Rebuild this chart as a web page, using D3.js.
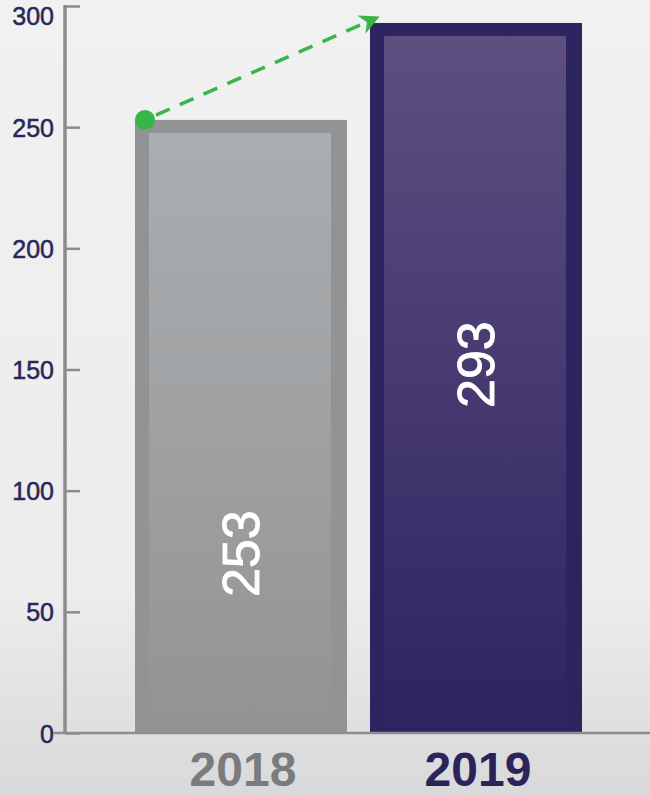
<!DOCTYPE html>
<html>
<head>
<meta charset="utf-8">
<title>2018 vs 2019</title>
<script src="https://cdn.jsdelivr.net/npm/d3@7"></script>
<style>
body{
  margin:0;
  background:#eeeeef}

svg{
  display:block}

text{
  font-family:"Liberation Sans", Arial, sans-serif}

.axis text{
  font-size:25px;
  fill:#2b2656;
  stroke:#2b2656;
  stroke-width:0.5}
</style>
</head>
<body>
<script>
// Data.
const years = ['2018', '2019']
const values = [253, 293]
const yTicks = [0, 50, 100, 150, 200, 250, 300]

const borderColors = ['#929395', '#2d2460']
const topColors = ['#abaeb0', '#5e4f80']
const yearColors = ['#7a7b7d', '#2b2459']

const width = 650
const height = 796

const svg = d3.select('body')
  .append('svg')
    .attr('width', width)
    .attr('height', height)

const defs = svg.append('defs')

// Background, lighter at the top, a little darker towards the bottom.
const bg = defs.append('linearGradient')
    .attr('id', 'bg')
    .attr('x1', 0).attr('y1', 0).attr('x2', 0).attr('y2', 1)
bg.append('stop').attr('offset', '0%').attr('stop-color', '#f1f1f2')
bg.append('stop').attr('offset', '75%').attr('stop-color', '#ececed')
bg.append('stop').attr('offset', '100%').attr('stop-color', '#d9d9db')

svg.append('rect')
    .attr('width', width)
    .attr('height', height)
    .attr('fill', 'url(#bg)')

// Scales.
const y = d3.scaleLinear().domain([0, 300]).range([733, 6])
const x = d3.scaleBand()
    .domain(years)
    .range([135, 582])
    .paddingInner(0.098)
    .paddingOuter(0)

// Bar fill gradients.
years.forEach((yr, i) => {
  const g = defs.append('linearGradient')
      .attr('id', 'grad' + yr)
      .attr('x1', 0).attr('y1', 0).attr('x2', 0).attr('y2', 1)
  g.append('stop').attr('offset', '0%').attr('stop-color', topColors[i])
  g.append('stop').attr('offset', '100%').attr('stop-color', borderColors[i])
})

const inset = 14
const bars = svg.selectAll('.bar')
  .data(years)
  .enter().append('g')
    .attr('class', 'bar')

bars.append('rect')
    .attr('x', d => x(d))
    .attr('y', (d, i) => y(values[i]))
    .attr('width', x.bandwidth())
    .attr('height', (d, i) => y(0) - y(values[i]))
    .attr('fill', (d, i) => borderColors[i])

bars.append('rect')
    .attr('x', d => x(d) + inset)
    .attr('y', (d, i) => y(values[i]) + 13)
    .attr('width', x.bandwidth() - inset - 16)
    .attr('height', (d, i) => y(0) - y(values[i]) - 13)
    .attr('fill', d => `url(#grad${d})`)

// Value labels, rotated inside the bars.
const labelAt = [74, 152]
bars.append('text')
    .attr('transform', (d, i) =>
      `translate(${x(d) + x.bandwidth() / 2 + 18}, ${y(labelAt[i])}) rotate(-90)`)
    .attr('text-anchor', 'middle')
    .style('font-size', '52px')
    .style('fill', '#ffffff')
    .style('stroke', '#ffffff')
    .style('stroke-width', 0.8)
    .text((d, i) => values[i])

// Y axis.
const yAxis = svg.append('g')
    .attr('class', 'axis')
    .attr('transform', 'translate(65, 0)')
    .call(d3.axisRight(y).tickValues(yTicks).tickSize(15).tickFormat(d3.format('d')))
yAxis.select('.domain').remove()
yAxis.selectAll('.tick line')
    .attr('stroke', '#8c8c8f')
    .attr('stroke-width', 2.5)
yAxis.selectAll('.tick text')
    .attr('x', -11)
    .attr('dy', d => d === 300 ? '0.72em' : '0.36em')   // keep the top label on the page
    .attr('text-anchor', 'end')
yAxis.append('line')
    .attr('x1', 0).attr('x2', 0)
    .attr('y1', y(300) - 1).attr('y2', y(0))
    .attr('stroke', '#8c8c8f')
    .attr('stroke-width', 3.5)

// X baseline.
svg.append('line')
    .attr('x1', 53).attr('x2', width)
    .attr('y1', y(0)).attr('y2', y(0))
    .attr('stroke', '#8d8e91')
    .attr('stroke-width', 2.5)

// Year labels.
svg.selectAll('.year')
  .data(years)
  .enter().append('text')
    .attr('class', 'year')
    .attr('x', d => x(d) + x.bandwidth() / 2 + 2)
    .attr('y', 786)
    .attr('text-anchor', 'middle')
    .style('font-size', '48px')
    .style('font-weight', 700)
    .style('fill', (d, i) => yearColors[i])
    .text(d => d)

// Growth arrow.
defs.append('marker')
    .attr('id', 'arrow')
    .attr('viewBox', '0 0 10 10')
    .attr('refX', 8)
    .attr('refY', 5)
    .attr('markerWidth', 24)
    .attr('markerHeight', 20)
    .attr('markerUnits', 'userSpaceOnUse')
    .attr('orient', 'auto')
  .append('path')
    .attr('d', 'M0,0 L10,5 L0,10 L3,5 Z')
    .attr('fill', '#3bb54a')

const x0 = x('2018') + 10
const y0 = y(values[0])
const x1 = x('2019') + 6
const y1 = y(295)

svg.append('line')
    .attr('x1', x0).attr('y1', y0)
    .attr('x2', x1).attr('y2', y1)
    .attr('stroke', '#3bb54a')
    .attr('stroke-width', 3.5)
    .attr('stroke-dasharray', '15,11')
    .attr('stroke-dashoffset', -12)
    .attr('marker-end', 'url(#arrow)')

svg.append('circle')
    .attr('cx', x0)
    .attr('cy', y0)
    .attr('r', 10)
    .attr('fill', '#38b546')
</script>
</body>
</html>
